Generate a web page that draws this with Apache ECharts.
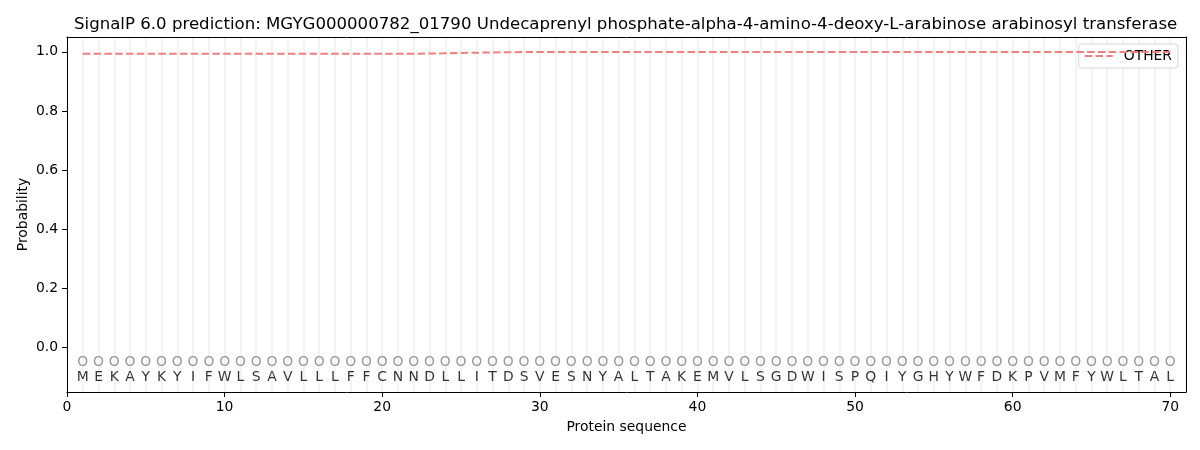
<!DOCTYPE html>
<html>
<head>
<meta charset="utf-8">
<script src="https://cdn.jsdelivr.net/npm/echarts@6/dist/echarts.min.js"></script>
<style>html,body{margin:0;padding:0;background:#fff;}#c{width:1200px;height:450px;}</style>
</head>
<body>
<div id="c"></div>
<script>
const titleText = 'SignalP 6.0 prediction: MGYG000000782_01790 Undecaprenyl phosphate-alpha-4-amino-4-deoxy-L-arabinose arabinosyl transferase';
const residues = ['M','E','K','A','Y','K','Y','I','F','W','L','S','A','V','L','L','L','F','F','C','N','N','D','L','L','I','T','D','S','V','E','S','N','Y','A','L','T','A','K','E','M','V','L','S','G','D','W','I','S','P','Q','I','Y','G','H','Y','W','F','D','K','P','V','M','F','Y','W','L','T','A','L'];
const predLabels = residues.map(() => 'O');
const otherProb = [0.993,0.993,0.993,0.993,0.993,0.993,0.993,0.993,0.993,0.993,
                   0.993,0.993,0.993,0.993,0.993,0.993,0.993,0.993,0.993,0.993,
                   0.993,0.9935,0.994,0.995,0.996,0.997,0.998,0.9985,0.999,0.999,
                   0.999,0.999,0.999,0.999,0.999,0.9995,0.9995,0.9995,0.9995,0.9995,
                   0.9995,0.9995,0.9995,0.9995,0.9995,0.9995,0.9995,0.9995,0.9995,0.9995,
                   0.9995,0.9995,0.9995,0.9995,0.9995,0.9995,0.9995,0.9995,0.9995,0.9995,
                   0.9995,0.9995,0.9995,0.9995,0.9995,0.9995,0.9995,0.9995,0.9995,0.9995];
const xTicks = [0,10,20,30,40,50,60,70];
const yTicks = [0,0.2,0.4,0.6,0.8,1.0];
const seriesName = 'OTHER';

const FONT = 'DejaVu Sans';
const chart = echarts.init(document.getElementById('c'));
const positions = residues.map((_, i) => i + 1);
chart.setOption({
  animation: false,
  textStyle: {fontFamily: FONT},
  title: {
    text: titleText, left: 69, top: 11,
    textStyle: {fontFamily: FONT, fontSize: 16.6, fontWeight: 'normal', color: '#000'}
  },
  legend: {
    right: 22, top: 44,
    data: [seriesName],
    itemWidth: 28, itemHeight: 2, itemGap: 8,
    padding: [5, 6, 5, 5],
    borderColor: '#d5d5d5', borderWidth: 1, borderRadius: 3,
    backgroundColor: '#fff',
    textStyle: {fontFamily: FONT, fontSize: 13.9, color: '#000', padding: [0, 0, 0, 6]}
  },
  grid: {left: 67, right: 14, top: 37, bottom: 58, show: false},
  xAxis: [{
    type: 'value', min: 0, max: 71, position: 'bottom',
    name: 'Protein sequence', nameLocation: 'middle', nameGap: 28,
    nameTextStyle: {fontFamily: FONT, fontSize: 13.9, color: '#000'},
    axisLine: {show: true, onZero: false, lineStyle: {color: '#000'}},
    axisTick: {show: true, length: 5, lineStyle: {color: '#000'}, customValues: xTicks},
    axisLabel: {fontFamily: FONT, fontSize: 13.9, color: '#000', margin: 8, customValues: xTicks},
    splitLine: {show: false}
  }, {
    type: 'value', min: 0, max: 71, interval: 1, position: 'top',
    axisLine: {show: true, onZero: false, lineStyle: {color: '#000'}}, axisTick: {show: false}, axisLabel: {show: false},
    splitLine: {show: true, lineStyle: {color: '#f0f0f0', width: 1.6}}
  }],
  yAxis: [{
    type: 'value', min: -0.15, max: 1.05, position: 'left',
    name: 'Probability', nameLocation: 'middle', nameGap: 37, nameRotate: 90, nameMoveOverlap: false,
    nameTextStyle: {fontFamily: FONT, fontSize: 13.9, color: '#000'},
    axisLine: {show: true, onZero: false, lineStyle: {color: '#000'}},
    axisTick: {show: true, length: 5, lineStyle: {color: '#000'}, customValues: yTicks},
    axisLabel: {fontFamily: FONT, fontSize: 13.9, color: '#000', margin: 9, customValues: yTicks,
      formatter: v => v.toFixed(1)},
    splitLine: {show: false}
  }, {
    type: 'value', min: -0.15, max: 1.05, position: 'right',
    axisLine: {show: true, onZero: false, lineStyle: {color: '#000'}}, axisTick: {show: false}, axisLabel: {show: false},
    splitLine: {show: false}
  }],
  series: [{
    name: seriesName, type: 'line', xAxisIndex: 0,
    data: positions.map((p, i) => [p, otherProb[i]]),
    symbol: 'none', color: '#f08080',
    lineStyle: {color: '#f08080', width: 2, type: [7.5, 3.3]},
    z: 5
  }, {
    type: 'scatter', xAxisIndex: 0, symbolSize: 0, silent: true,
    data: positions.map((p, i) => [p, -0.05, predLabels[i]]),
    label: {show: true, position: 'inside', formatter: d => d.value[2],
      fontFamily: FONT, fontSize: 13.9, color: '#808080'}
  }, {
    type: 'scatter', xAxisIndex: 0, symbolSize: 0, silent: true,
    data: positions.map((p, i) => [p, -0.1, residues[i]]),
    label: {show: true, position: 'inside', formatter: d => d.value[2],
      fontFamily: FONT, fontSize: 13.9, color: '#000'}
  }]
});
</script>
</body>
</html>
